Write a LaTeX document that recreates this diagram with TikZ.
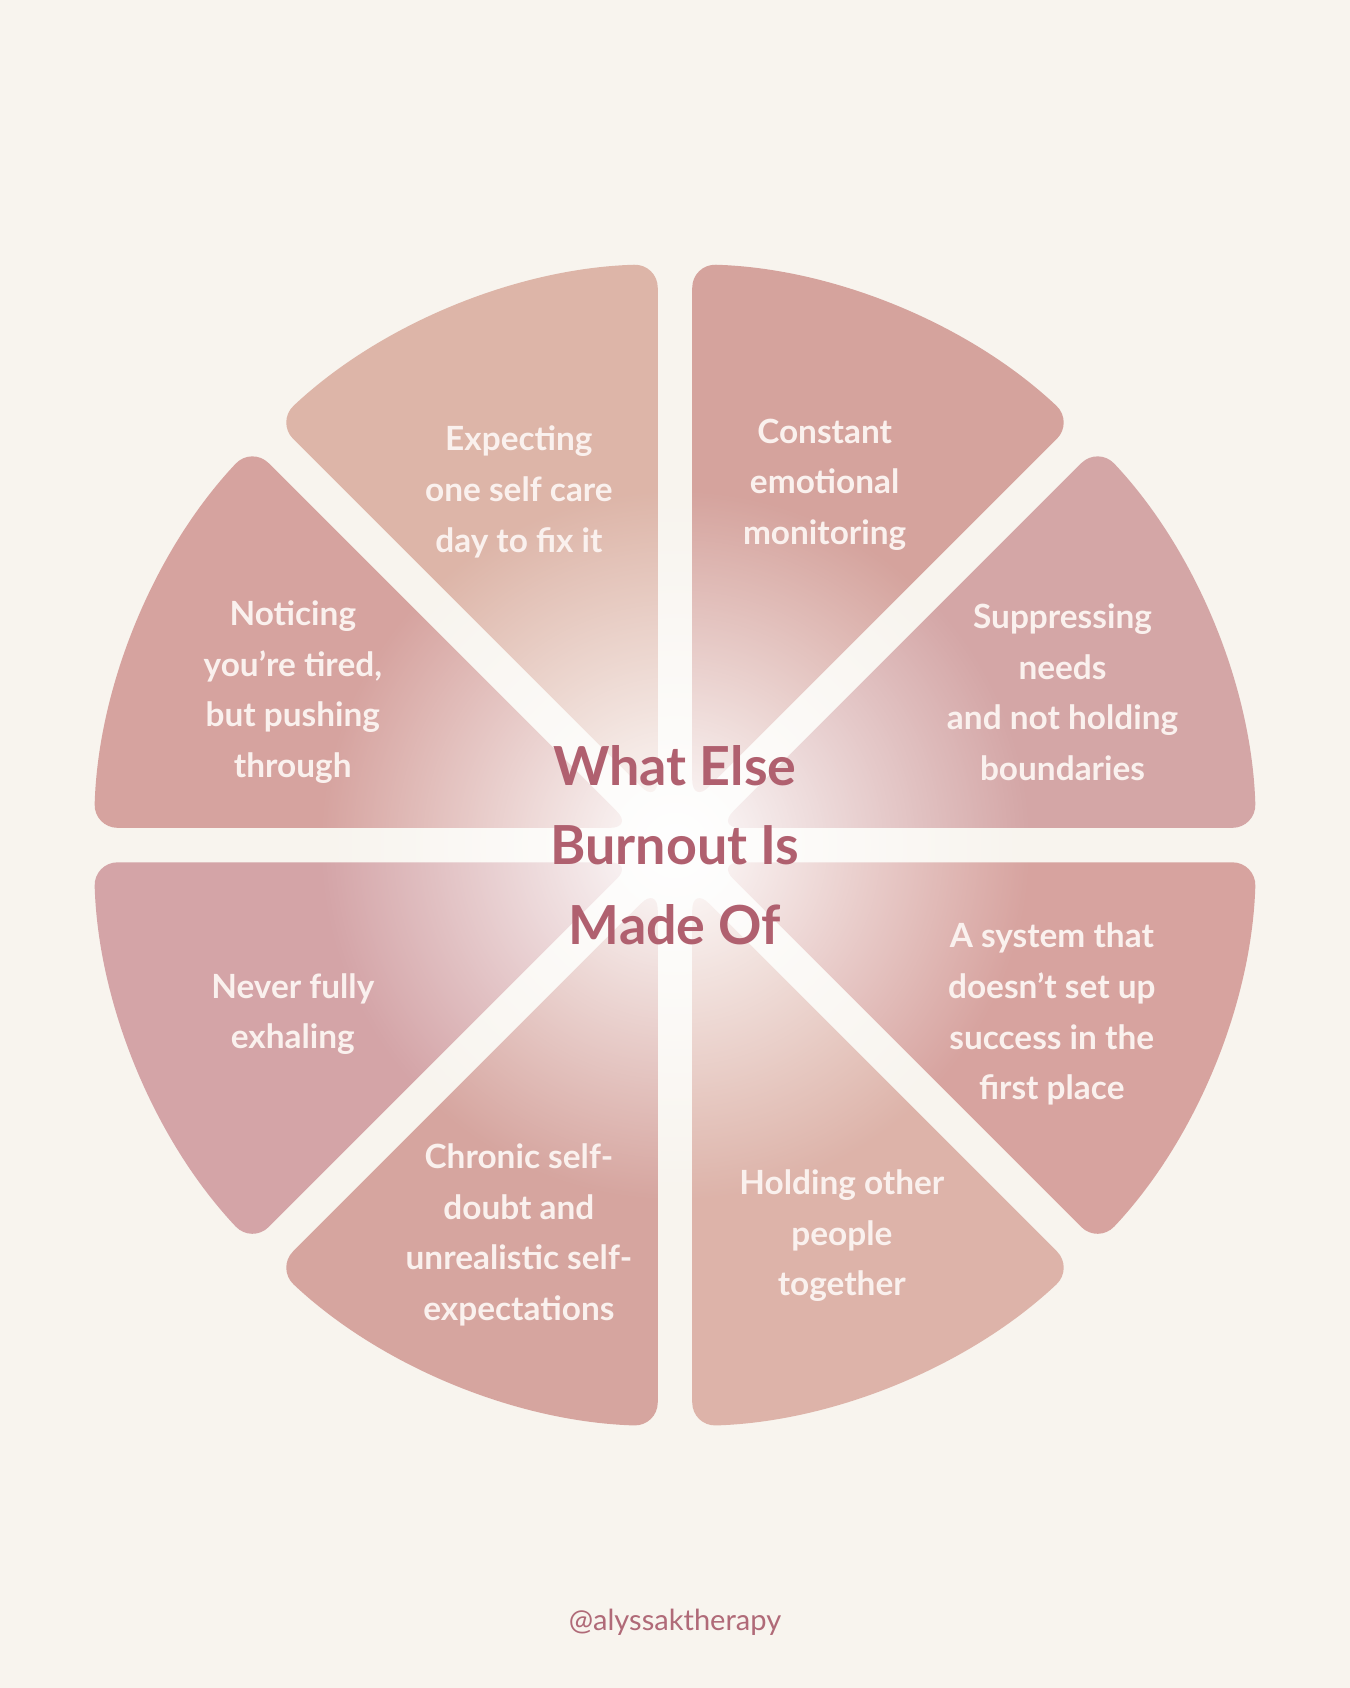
\documentclass[tikz,border=0pt]{standalone}
\usepackage{fontspec}
\setmainfont{Lato}
\usetikzlibrary{fadings}
\definecolor{bg}{HTML}{F8F4EE}
\definecolor{ttl}{HTML}{B0606F}
\definecolor{hnd}{HTML}{B06A78}
\definecolor{txt}{HTML}{FAF1EE}
\definecolor{sA}{HTML}{DDB5A8}
\definecolor{sB}{HTML}{D5A39D}
\definecolor{sC}{HTML}{D4A6A6}
\definecolor{sD}{HTML}{D7A39F}
\definecolor{sE}{HTML}{DDB3A9}
\definecolor{sF}{HTML}{D6A59F}
\definecolor{sG}{HTML}{D4A4A7}
\definecolor{sH}{HTML}{D6A39F}
\tikzfading[name=glow, inner color=transparent!0, outer color=transparent!100]
\tikzset{lbl/.style={text=txt, font=\fontsize{31}{47}\selectfont\bfseries, align=center},
  wedge/.style={rounded corners=22pt}}
\newcommand{\mywedge}[2]{%
  \fill[#2, wedge] (627,-785) ++(#1+22.5:41.8) -- ($(627,-785)+(#1+1.7:540)$)
    arc[start angle=#1+1.7, end angle=#1+43.3, radius=540] -- cycle;}
\usetikzlibrary{calc}
\begin{document}
\begin{tikzpicture}[x=1pt,y=1pt]
\fill[bg] (0,0) rectangle (1254,-1568);
\useasboundingbox (0,0) rectangle (1254,-1568);
\mywedge{0}{sC}
\mywedge{45}{sB}
\mywedge{90}{sA}
\mywedge{135}{sH}
\mywedge{180}{sG}
\mywedge{225}{sF}
\mywedge{270}{sE}
\mywedge{315}{sD}
\fill[white, path fading=glow] (627,-785) circle (330);
\node[lbl] (t1) at (482,-457) {Expecting\\one self care\\day to fix it};
\node[lbl] (t2) at (766,-450) {Constant\\emotional\\monitoring};
\node[lbl] (t3) at (987,-643) {Suppressing\\needs\\and not holding\\boundaries};
\node[lbl] (t4) at (272,-643) {Noticing\\you’re tired,\\but pushing\\through};
\node[lbl] (t5) at (272,-942) {Never fully\\exhaling};
\node[lbl] (t6) at (977,-942) {A system that\\doesn’t set up\\success in the\\first place};
\node[lbl] (t7) at (482,-1147) {Chronic self-\\doubt and\\unrealistic self-\\expectations};
\node[lbl] (t8) at (782,-1148) {Holding other\\people\\together};
\node[text=ttl, font=\fontsize{50}{74}\selectfont\bfseries, align=center] (title) at (627,-785) {What Else\\Burnout Is\\Made Of};
\node[text=hnd, font=\fontsize{27}{32}\selectfont] (h) at (627,-1507) {@alyssaktherapy};
\end{tikzpicture}
\end{document}
